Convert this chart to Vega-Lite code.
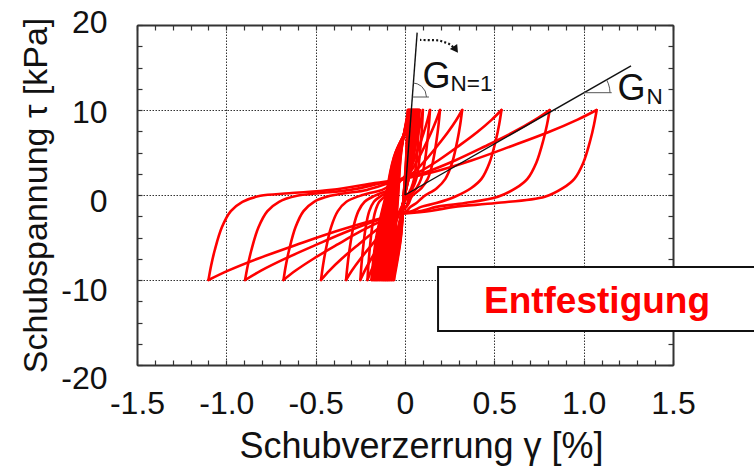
{
  "$schema": "https://vega.github.io/schema/vega-lite/v6.json",
  "width": 536,
  "height": 340,
  "autosize": {"type": "none"},
  "padding": {"left": 137, "top": 25, "right": 81, "bottom": 105},
  "background": "white",
  "config": {"view": {"stroke": null}, "font": "Liberation Sans"},
  "resolve": {"axis": {"x": "independent", "y": "independent"}},
  "layer": [
    {
      "data": {"values": [
        {"b":"s0","g":0,"t":0},{"b":"s0","g":0.008,"t":5},{"b":"s0","g":0.016,"t":10},
        {"b":"u1","g":0.016,"t":10},{"b":"u1","g":0.008,"t":5},{"b":"u1","g":-0.007,"t":0},{"b":"u1","g":-0.023,"t":-5},{"b":"u1","g":-0.062,"t":-10},
        {"b":"l1","g":-0.062,"t":-10},{"b":"l1","g":-0.054,"t":-5},{"b":"l1","g":-0.038,"t":0},{"b":"l1","g":-0.0215,"t":5},{"b":"l1","g":0.019,"t":10},
        {"b":"u2","g":0.019,"t":10},{"b":"u2","g":0.010,"t":5},{"b":"u2","g":-0.007,"t":0},{"b":"u2","g":-0.024,"t":-5},{"b":"u2","g":-0.067,"t":-10},
        {"b":"l2","g":-0.067,"t":-10},{"b":"l2","g":-0.058,"t":-5},{"b":"l2","g":-0.040,"t":0},{"b":"l2","g":-0.0225,"t":5},{"b":"l2","g":0.022,"t":10},
        {"b":"u3","g":0.022,"t":10},{"b":"u3","g":0.013,"t":5},{"b":"u3","g":-0.007,"t":0},{"b":"u3","g":-0.0255,"t":-5},{"b":"u3","g":-0.073,"t":-10},
        {"b":"l3","g":-0.073,"t":-10},{"b":"l3","g":-0.063,"t":-5},{"b":"l3","g":-0.044,"t":0},{"b":"l3","g":-0.0245,"t":5},{"b":"l3","g":0.024,"t":10},
        {"b":"u4","g":0.024,"t":10},{"b":"u4","g":0.014,"t":5},{"b":"u4","g":-0.007,"t":0},{"b":"u4","g":-0.027,"t":-5},{"b":"u4","g":-0.078,"t":-10},
        {"b":"l4","g":-0.078,"t":-10},{"b":"l4","g":-0.068,"t":-5},{"b":"l4","g":-0.047,"t":0},{"b":"l4","g":-0.0255,"t":5},{"b":"l4","g":0.027,"t":10},
        {"b":"u5","g":0.027,"t":10},{"b":"u5","g":0.016,"t":5},{"b":"u5","g":-0.006,"t":0},{"b":"u5","g":-0.0285,"t":-5},{"b":"u5","g":-0.084,"t":-10},
        {"b":"l5","g":-0.084,"t":-10},{"b":"l5","g":-0.073,"t":-5},{"b":"l5","g":-0.050,"t":0},{"b":"l5","g":-0.027,"t":5},{"b":"l5","g":0.030,"t":10},
        {"b":"u6","g":0.030,"t":10},{"b":"u6","g":0.018,"t":5},{"b":"u6","g":-0.006,"t":0},{"b":"u6","g":-0.0295,"t":-5},{"b":"u6","g":-0.089,"t":-10},
        {"b":"l6","g":-0.089,"t":-10},{"b":"l6","g":-0.077,"t":-5},{"b":"l6","g":-0.052,"t":0},{"b":"l6","g":-0.028,"t":5},{"b":"l6","g":0.033,"t":10},
        {"b":"u7","g":0.033,"t":10},{"b":"u7","g":0.020,"t":5},{"b":"u7","g":-0.005,"t":0},{"b":"u7","g":-0.031,"t":-5},{"b":"u7","g":-0.095,"t":-10},
        {"b":"l7","g":-0.095,"t":-10},{"b":"l7","g":-0.082,"t":-5},{"b":"l7","g":-0.056,"t":0},{"b":"l7","g":-0.030,"t":5},{"b":"l7","g":0.035,"t":10},
        {"b":"u8","g":0.035,"t":10},{"b":"u8","g":0.022,"t":5},{"b":"u8","g":-0.006,"t":0},{"b":"u8","g":-0.0325,"t":-5},{"b":"u8","g":-0.100,"t":-10},
        {"b":"l8","g":-0.100,"t":-10},{"b":"l8","g":-0.086,"t":-5},{"b":"l8","g":-0.059,"t":0},{"b":"l8","g":-0.031,"t":5},{"b":"l8","g":0.038,"t":10},
        {"b":"u9","g":0.038,"t":10},{"b":"u9","g":0.024,"t":5},{"b":"u9","g":-0.005,"t":0},{"b":"u9","g":-0.034,"t":-5},{"b":"u9","g":-0.106,"t":-10},
        {"b":"l9","g":-0.106,"t":-10},{"b":"l9","g":-0.091,"t":-5},{"b":"l9","g":-0.062,"t":0},{"b":"l9","g":-0.0325,"t":5},{"b":"l9","g":0.041,"t":10},
        {"b":"u10","g":0.041,"t":10},{"b":"u10","g":0.026,"t":5},{"b":"u10","g":-0.005,"t":0},{"b":"u10","g":-0.035,"t":-5},{"b":"u10","g":-0.111,"t":-10},
        {"b":"l10","g":-0.111,"t":-10},{"b":"l10","g":-0.096,"t":-5},{"b":"l10","g":-0.065,"t":0},{"b":"l10","g":-0.0335,"t":5},{"b":"l10","g":0.044,"t":10},
        {"b":"u11","g":0.044,"t":10},{"b":"u11","g":0.028,"t":5},{"b":"u11","g":-0.004,"t":0},{"b":"u11","g":-0.0365,"t":-5},{"b":"u11","g":-0.117,"t":-10},
        {"b":"l11","g":-0.117,"t":-10},{"b":"l11","g":-0.101,"t":-5},{"b":"l11","g":-0.068,"t":0},{"b":"l11","g":-0.0355,"t":5},{"b":"l11","g":0.046,"t":10},
        {"b":"u12","g":0.046,"t":10},{"b":"u12","g":0.029,"t":5},{"b":"u12","g":-0.004,"t":0},{"b":"u12","g":-0.038,"t":-5},{"b":"u12","g":-0.122,"t":-10},
        {"b":"l12","g":-0.122,"t":-10},{"b":"l12","g":-0.105,"t":-5},{"b":"l12","g":-0.071,"t":0},{"b":"l12","g":-0.0365,"t":5},{"b":"l12","g":0.049,"t":10},
        {"b":"u13","g":0.049,"t":10},{"b":"u13","g":0.031,"t":5},{"b":"u13","g":-0.004,"t":0},{"b":"u13","g":-0.0395,"t":-5},{"b":"u13","g":-0.128,"t":-10},
        {"b":"l13","g":-0.128,"t":-10},{"b":"l13","g":-0.110,"t":-5},{"b":"l13","g":-0.074,"t":0},{"b":"l13","g":-0.038,"t":5},{"b":"l13","g":0.052,"t":10},
        {"b":"u14","g":0.052,"t":10},{"b":"u14","g":0.034,"t":5},{"b":"u14","g":-0.004,"t":0},{"b":"u14","g":-0.0405,"t":-5},{"b":"u14","g":-0.133,"t":-10},
        {"b":"l14","g":-0.133,"t":-10},{"b":"l14","g":-0.114,"t":-5},{"b":"l14","g":-0.077,"t":0},{"b":"l14","g":-0.039,"t":5},{"b":"l14","g":0.055,"t":10},
        {"b":"u15","g":0.055,"t":10},{"b":"u15","g":0.036,"t":5},{"b":"u15","g":-0.003,"t":0},{"b":"u15","g":-0.042,"t":-5},{"b":"u15","g":-0.139,"t":-10},
        {"b":"l15","g":-0.139,"t":-10},{"b":"l15","g":-0.119,"t":-5},{"b":"l15","g":-0.080,"t":0},{"b":"l15","g":-0.041,"t":5},{"b":"l15","g":0.057,"t":10},
        {"b":"u16","g":0.057,"t":10},{"b":"u16","g":0.037,"t":5},{"b":"u16","g":-0.003,"t":0},{"b":"u16","g":-0.0435,"t":-5},{"b":"u16","g":-0.144,"t":-10},
        {"b":"l16","g":-0.144,"t":-10},{"b":"l16","g":-0.124,"t":-5},{"b":"l16","g":-0.083,"t":0},{"b":"l16","g":-0.042,"t":5},{"b":"l16","g":0.060,"t":10},
        {"b":"u17","g":0.060,"t":10},{"b":"u17","g":0.039,"t":5},{"b":"u17","g":-0.003,"t":0},{"b":"u17","g":-0.045,"t":-5},{"b":"u17","g":-0.150,"t":-10},
        {"b":"l17","g":-0.150,"t":-10},{"b":"l17","g":-0.129,"t":-5},{"b":"l17","g":-0.086,"t":0},{"b":"l17","g":-0.0435,"t":5},{"b":"l17","g":0.063,"t":10},
        {"b":"u18","g":0.063,"t":10},{"b":"u18","g":0.041,"t":5},{"b":"u18","g":-0.002,"t":0},{"b":"u18","g":-0.046,"t":-5},{"b":"u18","g":-0.155,"t":-10},
        {"b":"l18","g":-0.155,"t":-10},{"b":"l18","g":-0.133,"t":-5},{"b":"l18","g":-0.089,"t":0},{"b":"l18","g":-0.0445,"t":5},{"b":"l18","g":0.066,"t":10},
        {"b":"u19","g":0.066,"t":10},{"b":"u19","g":0.043,"t":5},{"b":"u19","g":-0.002,"t":0},{"b":"u19","g":-0.0475,"t":-5},{"b":"u19","g":-0.161,"t":-10},
        {"b":"l19","g":-0.161,"t":-10},{"b":"l19","g":-0.138,"t":-5},{"b":"l19","g":-0.092,"t":0},{"b":"l19","g":-0.0465,"t":5},{"b":"l19","g":0.068,"t":10},
        {"b":"u20","g":0.068,"t":10},{"b":"u20","g":0.045,"t":5},{"b":"u20","g":-0.002,"t":0},{"b":"u20","g":-0.049,"t":-5},{"b":"u20","g":-0.166,"t":-10},
        {"b":"l20","g":-0.166,"t":-10},{"b":"l20","g":-0.142,"t":-5},{"b":"l20","g":-0.095,"t":0},{"b":"l20","g":-0.0475,"t":5},{"b":"l20","g":0.071,"t":10},
        {"b":"u21","g":0.071,"t":10},{"b":"u21","g":0.047,"t":5},{"b":"u21","g":-0.002,"t":0},{"b":"u21","g":-0.0505,"t":-5},{"b":"u21","g":-0.172,"t":-10},
        {"b":"l21","g":-0.172,"t":-10},{"b":"l21","g":-0.147,"t":-5},{"b":"l21","g":-0.098,"t":0},{"b":"l21","g":-0.049,"t":5},{"b":"l21","g":0.074,"t":10},
        {"b":"u22","g":0.074,"t":10},{"b":"u22","g":0.049,"t":5},{"b":"u22","g":-0.001,"t":0},{"b":"u22","g":-0.0515,"t":-5},{"b":"u22","g":-0.177,"t":-10},
        {"b":"l22","g":-0.177,"t":-10},{"b":"l22","g":-0.152,"t":-5},{"b":"l22","g":-0.101,"t":0},{"b":"l22","g":-0.050,"t":5},{"b":"l22","g":0.077,"t":10},
        {"b":"u23","g":0.077,"t":10},{"b":"u23","g":0.051,"t":5},{"b":"u23","g":-0.001,"t":0},{"b":"u23","g":-0.053,"t":-5},{"b":"u23","g":-0.183,"t":-10},
        {"b":"l23","g":-0.183,"t":-10},{"b":"l23","g":-0.157,"t":-5},{"b":"l23","g":-0.104,"t":0},{"b":"l23","g":-0.052,"t":5},{"b":"l23","g":0.079,"t":10},
        {"b":"u24","g":0.079,"t":10},{"b":"u24","g":0.052,"t":5},{"b":"u24","g":-0.001,"t":0},{"b":"u24","g":-0.0545,"t":-5},{"b":"u24","g":-0.188,"t":-10},
        {"b":"l24","g":-0.188,"t":-10},{"b":"l24","g":-0.161,"t":-5},{"b":"l24","g":-0.107,"t":0},{"b":"l24","g":-0.053,"t":5},{"b":"l24","g":0.082,"t":10},

        {"b":"U0","g":0.082,"t":10},{"b":"U0","g":0.078,"t":8.3},{"b":"U0","g":0.073,"t":6.5},{"b":"U0","g":0.063,"t":3.8},{"b":"U0","g":0.051,"t":1.9},{"b":"U0","g":0.035,"t":0.8},{"b":"U0","g":0.01,"t":-0.2},{"b":"U0","g":-0.03,"t":-1.9},{"b":"U0","g":-0.045,"t":-2.89},{"b":"U0","g":-0.079,"t":-4.23},{"b":"U0","g":-0.118,"t":-5.81},{"b":"U0","g":-0.158,"t":-7.47},{"b":"U0","g":-0.189,"t":-8.89},{"b":"U0","g":-0.21,"t":-10},

        {"b":"L1","g":-0.21,"t":-10},{"b":"L1","g":-0.205,"t":-8.3},{"b":"L1","g":-0.198,"t":-6.5},{"b":"L1","g":-0.184,"t":-3.8},{"b":"L1","g":-0.166,"t":-1.9},{"b":"L1","g":-0.144,"t":-0.8},{"b":"L1","g":-0.109,"t":-0.1},{"b":"L1","g":-0.087,"t":0.2},{"b":"L1","g":-0.06,"t":0.6},{"b":"L1","g":-0.04,"t":1.2},{"b":"L1","g":-0.03,"t":1.6},{"b":"L1","g":0.012,"t":2.5},{"b":"L1","g":0.033,"t":3.9},{"b":"L1","g":0.054,"t":5.55},{"b":"L1","g":0.075,"t":7.3},{"b":"L1","g":0.09,"t":8.8},{"b":"L1","g":0.1,"t":10},

        {"b":"U1","g":0.1,"t":10},{"b":"U1","g":0.096,"t":8.3},{"b":"U1","g":0.09,"t":6.5},{"b":"U1","g":0.078,"t":3.8},{"b":"U1","g":0.063,"t":1.9},{"b":"U1","g":0.043,"t":0.8},{"b":"U1","g":0.013,"t":-0.2},{"b":"U1","g":-0.03,"t":-1.95},{"b":"U1","g":-0.05,"t":-2.89},{"b":"U1","g":-0.092,"t":-4.23},{"b":"U1","g":-0.14,"t":-5.81},{"b":"U1","g":-0.188,"t":-7.47},{"b":"U1","g":-0.225,"t":-8.89},{"b":"U1","g":-0.25,"t":-10},

        {"b":"L2","g":-0.25,"t":-10},{"b":"L2","g":-0.244,"t":-8.3},{"b":"L2","g":-0.236,"t":-6.5},{"b":"L2","g":-0.22,"t":-3.8},{"b":"L2","g":-0.2,"t":-1.9},{"b":"L2","g":-0.174,"t":-0.8},{"b":"L2","g":-0.134,"t":-0.1},{"b":"L2","g":-0.107,"t":0.2},{"b":"L2","g":-0.07,"t":0.6},{"b":"L2","g":-0.04,"t":1.3},{"b":"L2","g":-0.025,"t":1.7},{"b":"L2","g":0.019,"t":2.55},{"b":"L2","g":0.048,"t":3.95},{"b":"L2","g":0.077,"t":5.6},{"b":"L2","g":0.105,"t":7.33},{"b":"L2","g":0.126,"t":8.82},{"b":"L2","g":0.14,"t":10},

        {"b":"U2","g":0.14,"t":10},{"b":"U2","g":0.134,"t":8.3},{"b":"U2","g":0.126,"t":6.5},{"b":"U2","g":0.11,"t":3.8},{"b":"U2","g":0.09,"t":1.9},{"b":"U2","g":0.064,"t":0.8},{"b":"U2","g":0.024,"t":-0.2},{"b":"U2","g":0.006,"t":-1.4},{"b":"U2","g":-0.03,"t":-2.0},{"b":"U2","g":-0.06,"t":-2.89},{"b":"U2","g":-0.12,"t":-4.23},{"b":"U2","g":-0.184,"t":-5.81},{"b":"U2","g":-0.248,"t":-7.47},{"b":"U2","g":-0.297,"t":-8.89},{"b":"U2","g":-0.33,"t":-10},

        {"b":"L3","g":-0.33,"t":-10},{"b":"L3","g":-0.322,"t":-8.3},{"b":"L3","g":-0.311,"t":-6.5},{"b":"L3","g":-0.289,"t":-3.8},{"b":"L3","g":-0.261,"t":-1.9},{"b":"L3","g":-0.226,"t":-0.8},{"b":"L3","g":-0.171,"t":-0.1},{"b":"L3","g":-0.137,"t":0.2},{"b":"L3","g":-0.088,"t":0.6},{"b":"L3","g":-0.045,"t":1.4},{"b":"L3","g":-0.02,"t":1.8},{"b":"L3","g":0.027,"t":2.62},{"b":"L3","g":0.068,"t":4.01},{"b":"L3","g":0.108,"t":5.65},{"b":"L3","g":0.147,"t":7.38},{"b":"L3","g":0.176,"t":8.85},{"b":"L3","g":0.196,"t":10},

        {"b":"U3","g":0.196,"t":10},{"b":"U3","g":0.188,"t":8.3},{"b":"U3","g":0.177,"t":6.5},{"b":"U3","g":0.155,"t":3.8},{"b":"U3","g":0.127,"t":1.9},{"b":"U3","g":0.092,"t":0.8},{"b":"U3","g":0.037,"t":-0.2},{"b":"U3","g":0.022,"t":-0.95},{"b":"U3","g":0.008,"t":-1.4},{"b":"U3","g":-0.03,"t":-2.05},{"b":"U3","g":-0.08,"t":-2.89},{"b":"U3","g":-0.168,"t":-4.23},{"b":"U3","g":-0.26,"t":-5.81},{"b":"U3","g":-0.353,"t":-7.47},{"b":"U3","g":-0.423,"t":-8.89},{"b":"U3","g":-0.47,"t":-10},

        {"b":"L4","g":-0.47,"t":-10},{"b":"L4","g":-0.459,"t":-8.3},{"b":"L4","g":-0.444,"t":-6.5},{"b":"L4","g":-0.414,"t":-3.8},{"b":"L4","g":-0.376,"t":-1.9},{"b":"L4","g":-0.328,"t":-0.8},{"b":"L4","g":-0.253,"t":-0.1},{"b":"L4","g":-0.202,"t":0.2},{"b":"L4","g":-0.128,"t":0.6},{"b":"L4","g":-0.058,"t":1.4},{"b":"L4","g":-0.02,"t":1.8},{"b":"L4","g":0.046,"t":2.62},{"b":"L4","g":0.111,"t":4.01},{"b":"L4","g":0.176,"t":5.65},{"b":"L4","g":0.24,"t":7.38},{"b":"L4","g":0.288,"t":8.85},{"b":"L4","g":0.32,"t":10},

        {"b":"U4","g":0.32,"t":10},{"b":"U4","g":0.309,"t":8.3},{"b":"U4","g":0.294,"t":6.5},{"b":"U4","g":0.264,"t":3.8},{"b":"U4","g":0.226,"t":1.9},{"b":"U4","g":0.178,"t":0.8},{"b":"U4","g":0.103,"t":-0.2},{"b":"U4","g":0.064,"t":-0.95},{"b":"U4","g":0.03,"t":-1.4},{"b":"U4","g":0.01,"t":-1.85},{"b":"U4","g":-0.025,"t":-2.1},{"b":"U4","g":-0.115,"t":-2.89},{"b":"U4","g":-0.245,"t":-4.23},{"b":"U4","g":-0.377,"t":-5.81},{"b":"U4","g":-0.51,"t":-7.47},{"b":"U4","g":-0.612,"t":-8.89},{"b":"U4","g":-0.68,"t":-10},

        {"b":"L5","g":-0.68,"t":-10},{"b":"L5","g":-0.667,"t":-8.3},{"b":"L5","g":-0.649,"t":-6.5},{"b":"L5","g":-0.613,"t":-3.8},{"b":"L5","g":-0.568,"t":-1.9},{"b":"L5","g":-0.509,"t":-0.8},{"b":"L5","g":-0.419,"t":-0.1},{"b":"L5","g":-0.335,"t":0.2},{"b":"L5","g":-0.214,"t":0.6},{"b":"L5","g":-0.09,"t":1.4},{"b":"L5","g":-0.015,"t":1.9},{"b":"L5","g":0.079,"t":2.71},{"b":"L5","g":0.188,"t":4.09},{"b":"L5","g":0.297,"t":5.71},{"b":"L5","g":0.405,"t":7.41},{"b":"L5","g":0.486,"t":8.87},{"b":"L5","g":0.54,"t":10},

        {"b":"U5","g":0.54,"t":10},{"b":"U5","g":0.527,"t":8.3},{"b":"U5","g":0.509,"t":6.5},{"b":"U5","g":0.473,"t":3.8},{"b":"U5","g":0.428,"t":1.9},{"b":"U5","g":0.369,"t":0.8},{"b":"U5","g":0.279,"t":-0.2},{"b":"U5","g":0.175,"t":-0.95},{"b":"U5","g":0.09,"t":-1.4},{"b":"U5","g":0.045,"t":-1.85},{"b":"U5","g":-0.02,"t":-2.15},{"b":"U5","g":-0.15,"t":-2.95},{"b":"U5","g":-0.32,"t":-4.27},{"b":"U5","g":-0.495,"t":-5.84},{"b":"U5","g":-0.671,"t":-7.49},{"b":"U5","g":-0.806,"t":-8.9},{"b":"U5","g":-0.895,"t":-10},

        {"b":"L6","g":-0.895,"t":-10},{"b":"L6","g":-0.88,"t":-8.3},{"b":"L6","g":-0.86,"t":-6.5},{"b":"L6","g":-0.82,"t":-3.8},{"b":"L6","g":-0.77,"t":-1.9},{"b":"L6","g":-0.705,"t":-0.8},{"b":"L6","g":-0.605,"t":-0.1},{"b":"L6","g":-0.484,"t":0.2},{"b":"L6","g":-0.305,"t":0.6},{"b":"L6","g":-0.13,"t":1.4},{"b":"L6","g":-0.01,"t":1.9},{"b":"L6","g":0.12,"t":2.71},{"b":"L6","g":0.283,"t":4.09},{"b":"L6","g":0.446,"t":5.71},{"b":"L6","g":0.608,"t":7.41},{"b":"L6","g":0.729,"t":8.87},{"b":"L6","g":0.81,"t":10},

        {"b":"U6","g":0.81,"t":10},{"b":"U6","g":0.795,"t":8.3},{"b":"U6","g":0.775,"t":6.5},{"b":"U6","g":0.735,"t":3.8},{"b":"U6","g":0.685,"t":1.9},{"b":"U6","g":0.62,"t":0.8},{"b":"U6","g":0.52,"t":-0.2},{"b":"U6","g":0.335,"t":-0.95},{"b":"U6","g":0.176,"t":-1.4},{"b":"U6","g":0.095,"t":-1.85},{"b":"U6","g":-0.02,"t":-2.2},{"b":"U6","g":-0.18,"t":-3.0},{"b":"U6","g":-0.39,"t":-4.3},{"b":"U6","g":-0.607,"t":-5.86},{"b":"U6","g":-0.825,"t":-7.5},{"b":"U6","g":-0.99,"t":-8.9},{"b":"U6","g":-1.1,"t":-10},

        {"b":"L7","g":-1.1,"t":-10},{"b":"L7","g":-1.085,"t":-8.3},{"b":"L7","g":-1.065,"t":-6.5},{"b":"L7","g":-1.025,"t":-3.8},{"b":"L7","g":-0.975,"t":-1.9},{"b":"L7","g":-0.91,"t":-0.8},{"b":"L7","g":-0.81,"t":-0.1},{"b":"L7","g":-0.648,"t":0.2},{"b":"L7","g":-0.41,"t":0.6},{"b":"L7","g":-0.17,"t":1.4},{"b":"L7","g":-0.01,"t":1.9},{"b":"L7","g":0.16,"t":2.71},{"b":"L7","g":0.376,"t":4.09},{"b":"L7","g":0.59,"t":5.71},{"b":"L7","g":0.805,"t":7.41},{"b":"L7","g":0.966,"t":8.87},{"b":"L7","g":1.073,"t":10},

        {"b":"U7","g":1.073,"t":10},{"b":"U7","g":1.058,"t":8.3},{"b":"U7","g":1.038,"t":6.5},{"b":"U7","g":0.998,"t":3.8},{"b":"U7","g":0.948,"t":1.9},{"b":"U7","g":0.883,"t":0.8},{"b":"U7","g":0.783,"t":-0.2},{"b":"U7","g":0.509,"t":-0.95},{"b":"U7","g":0.274,"t":-1.4},{"b":"U7","g":0.15,"t":-1.85},{"b":"U7","g":-0.02,"t":-2.2}
      ]},
      "mark": {"type": "line", "color": "#ff0000", "strokeWidth": 2.6, "strokeJoin": "round", "strokeCap": "round", "interpolate": "catmull-rom", "clip": true},
      "encoding": {
        "x": {
          "field": "g", "type": "quantitative",
          "scale": {"domain": [-1.5, 1.5], "nice": false, "zero": false},
          "axis": {
            "orient": "bottom",
            "values": [-1.5, -1, -0.5, 0, 0.5, 1, 1.5],
            "ticks": false,
            "grid": true, "gridColor": "#333333", "gridDash": [1.5, 1.5], "gridWidth": 1,
            "domain": true, "domainColor": "#333333", "domainWidth": 2,
            "labelFont": "Liberation Sans", "labelFontSize": 32, "labelColor": "#111111",
            "labelPadding": 23, "labelFlush": false, "labelOverlap": false,
            "labelExpr": "datum.value == 0 ? '0' : (datum.value < 0 ? '-' : '') + format(abs(datum.value), '.1f')",
            "title": "Schubverzerrung γ [%]",
            "titleFont": "Liberation Sans", "titleFontSize": 36, "titleFontWeight": "normal", "titleColor": "#111111",
            "titleX": 284, "titleY": 92, "titleBaseline": "alphabetic", "titleAlign": "center"
          }
        },
        "y": {
          "field": "t", "type": "quantitative",
          "scale": {"domain": [-20, 20], "nice": false, "zero": false},
          "axis": {
            "orient": "left",
            "values": [-20, -10, 0, 10, 20],
            "ticks": false,
            "grid": true, "gridColor": "#333333", "gridDash": [1.5, 1.5], "gridWidth": 1,
            "domain": true, "domainColor": "#333333", "domainWidth": 2,
            "labelFont": "Liberation Sans", "labelFontSize": 32, "labelColor": "#111111",
            "labelPadding": 30, "labelFlush": false, "labelOverlap": false, "labelBaseline": "middle",
            "labelOffset": {"condition": [
              {"test": "datum.value == 20", "value": -3},
              {"test": "datum.value == 10", "value": 2},
              {"test": "datum.value == -10", "value": 10},
              {"test": "datum.value == -20", "value": 13}
            ], "value": 6},
            "labelExpr": "(datum.value < 0 ? '-' : '') + format(abs(datum.value), 'd')",
            "title": "Schubspannung τ [kPa]",
            "titleFont": "Liberation Sans", "titleFontSize": 34, "titleFontWeight": "normal", "titleColor": "#111111",
            "titleAngle": -90, "titleX": -91, "titleY": 170, "titleBaseline": "alphabetic", "titleAlign": "center"
          }
        },
        "detail": {"field": "b", "type": "nominal"},
        "order": {"field": "t", "type": "quantitative"}
      }
    },
    {
      "data": {"values": [
        {"k": "n1", "g": 0, "t": 0}, {"k": "n1", "g": 0.068, "t": 19.1},
        {"k": "n", "g": 0, "t": 0}, {"k": "n", "g": 1.265, "t": 15.2}
      ]},
      "mark": {"type": "line", "color": "#111111", "strokeWidth": 1.4},
      "encoding": {
        "x": {
          "field": "g", "type": "quantitative",
          "scale": {"domain": [-1.5, 1.5], "nice": false, "zero": false},
          "axis": {
            "orient": "bottom",
            "values": [-1.5,-1.4,-1.3,-1.2,-1.1,-1,-0.9,-0.8,-0.7,-0.6,-0.5,-0.4,-0.3,-0.2,-0.1,0,0.1,0.2,0.3,0.4,0.5,0.6,0.7,0.8,0.9,1,1.1,1.2,1.3,1.4,1.5],
            "ticks": true, "tickSize": -5, "tickColor": "#333333", "tickWidth": 1.2,
            "labels": false, "domain": false, "grid": false, "title": null
          }
        },
        "y": {
          "field": "t", "type": "quantitative",
          "scale": {"domain": [-20, 20], "nice": false, "zero": false},
          "axis": {
            "orient": "left",
            "values": [-20,-17.5,-15,-12.5,-10,-7.5,-5,-2.5,0,2.5,5,7.5,10,12.5,15,17.5,20],
            "ticks": true, "tickSize": -5, "tickColor": "#333333", "tickWidth": 1.2,
            "labels": false, "domain": false, "grid": false, "title": null
          }
        },
        "detail": {"field": "k", "type": "nominal"},
        "order": {"field": "t", "type": "quantitative"}
      }
    },
    {
      "data": {"values": [
        {"k": "h1", "g": 0.042, "t": 11.529}, {"k": "h1", "g": 0.134, "t": 11.529},
        {"k": "c1", "g": 0.1203, "t": 11.529}, {"k": "c1", "g": 0.113, "t": 12.226}, {"k": "c1", "g": 0.0923, "t": 12.791}, {"k": "c1", "g": 0.0688, "t": 13.078}, {"k": "c1", "g": 0.0475, "t": 13.173},
        {"k": "h2", "g": 1.002, "t": 12.035}, {"k": "h2", "g": 1.157, "t": 12.035},
        {"k": "c2", "g": 1.1474, "t": 12.035}, {"k": "c2", "g": 1.1451, "t": 12.566}, {"k": "c2", "g": 1.1386, "t": 13.081}, {"k": "c2", "g": 1.1282, "t": 13.553}
      ]},
      "mark": {"type": "line", "color": "#555555", "strokeWidth": 1},
      "encoding": {
        "x": {
          "field": "g", "type": "quantitative",
          "scale": {"domain": [-1.5, 1.5], "nice": false, "zero": false},
          "axis": {
            "orient": "top",
            "values": [-1.5,-1.4,-1.3,-1.2,-1.1,-1,-0.9,-0.8,-0.7,-0.6,-0.5,-0.4,-0.3,-0.2,-0.1,0,0.1,0.2,0.3,0.4,0.5,0.6,0.7,0.8,0.9,1,1.1,1.2,1.3,1.4,1.5],
            "ticks": true, "tickSize": -5, "tickColor": "#333333", "tickWidth": 1.2,
            "labels": false, "domain": true, "domainColor": "#333333", "domainWidth": 2, "grid": false, "title": null
          }
        },
        "y": {
          "field": "t", "type": "quantitative",
          "scale": {"domain": [-20, 20], "nice": false, "zero": false},
          "axis": {
            "orient": "right",
            "values": [-20,-17.5,-15,-12.5,-10,-7.5,-5,-2.5,0,2.5,5,7.5,10,12.5,15,17.5,20],
            "ticks": true, "tickSize": -5, "tickColor": "#333333", "tickWidth": 1.2,
            "labels": false, "domain": true, "domainColor": "#333333", "domainWidth": 2, "grid": false, "title": null
          }
        },
        "detail": {"field": "k", "type": "nominal"},
        "order": {"field": "t", "type": "quantitative"}
      }
    },
    {
      "data": {"values": [
        {"g": 0.084, "t": 18.24}, {"g": 0.19, "t": 18.2}, {"g": 0.245, "t": 17.8}, {"g": 0.27, "t": 17.4}
      ]},
      "mark": {"type": "line", "color": "#111111", "strokeWidth": 2.2, "strokeDash": [2, 2.2]},
      "encoding": {
        "x": {"field": "g", "type": "quantitative", "scale": {"domain": [-1.5, 1.5], "nice": false, "zero": false}, "axis": null},
        "y": {"field": "t", "type": "quantitative", "scale": {"domain": [-20, 20], "nice": false, "zero": false}, "axis": null},
        "order": {"field": "t", "type": "quantitative"}
      }
    },
    {
      "data": {"values": [{"g": 0.284, "t": 17.1}]},
      "mark": {"type": "point", "shape": "triangle-right", "filled": true, "color": "#111111", "size": 80, "angle": 55, "opacity": 1},
      "encoding": {
        "x": {"field": "g", "type": "quantitative", "scale": {"domain": [-1.5, 1.5], "nice": false, "zero": false}, "axis": null},
        "y": {"field": "t", "type": "quantitative", "scale": {"domain": [-20, 20], "nice": false, "zero": false}, "axis": null}
      }
    },
    {
      "data": {"values": [{"g": 0.098, "t": 12.59, "s": "G"}, {"g": 1.189, "t": 11.18, "s": "G"}]},
      "mark": {"type": "text", "font": "Liberation Sans", "fontSize": 36, "align": "left", "baseline": "alphabetic", "color": "#111111"},
      "encoding": {
        "x": {"field": "g", "type": "quantitative", "scale": {"domain": [-1.5, 1.5], "nice": false, "zero": false}, "axis": null},
        "y": {"field": "t", "type": "quantitative", "scale": {"domain": [-20, 20], "nice": false, "zero": false}, "axis": null},
        "text": {"field": "s"}
      }
    },
    {
      "data": {"values": [{"g": 0.255, "t": 12.27, "s": "N=1"}, {"g": 1.352, "t": 10.71, "s": "N"}]},
      "mark": {"type": "text", "font": "Liberation Sans", "fontSize": 22.5, "align": "left", "baseline": "alphabetic", "color": "#111111"},
      "encoding": {
        "x": {"field": "g", "type": "quantitative", "scale": {"domain": [-1.5, 1.5], "nice": false, "zero": false}, "axis": null},
        "y": {"field": "t", "type": "quantitative", "scale": {"domain": [-20, 20], "nice": false, "zero": false}, "axis": null},
        "text": {"field": "s"}
      }
    },
    {
      "data": {"values": [{"x1": 0.185, "x2": 2.0, "y1": -8.47, "y2": -16.0}]},
      "mark": {"type": "rect", "fill": "white", "stroke": "#111111", "strokeWidth": 2, "clip": false},
      "encoding": {
        "x": {"field": "x1", "type": "quantitative", "scale": {"domain": [-1.5, 1.5], "nice": false, "zero": false}, "axis": null},
        "x2": {"field": "x2"},
        "y": {"field": "y1", "type": "quantitative", "scale": {"domain": [-20, 20], "nice": false, "zero": false}, "axis": null},
        "y2": {"field": "y2"}
      }
    },
    {
      "data": {"values": [{"g": 1.0746, "t": -13.88, "s": "Entfestigung"}]},
      "mark": {"type": "text", "font": "Liberation Sans", "fontSize": 37, "fontWeight": "bold", "align": "center", "baseline": "alphabetic", "color": "#ff0000"},
      "encoding": {
        "x": {"field": "g", "type": "quantitative", "scale": {"domain": [-1.5, 1.5], "nice": false, "zero": false}, "axis": null},
        "y": {"field": "t", "type": "quantitative", "scale": {"domain": [-20, 20], "nice": false, "zero": false}, "axis": null},
        "text": {"field": "s"}
      }
    }
  ]
}
